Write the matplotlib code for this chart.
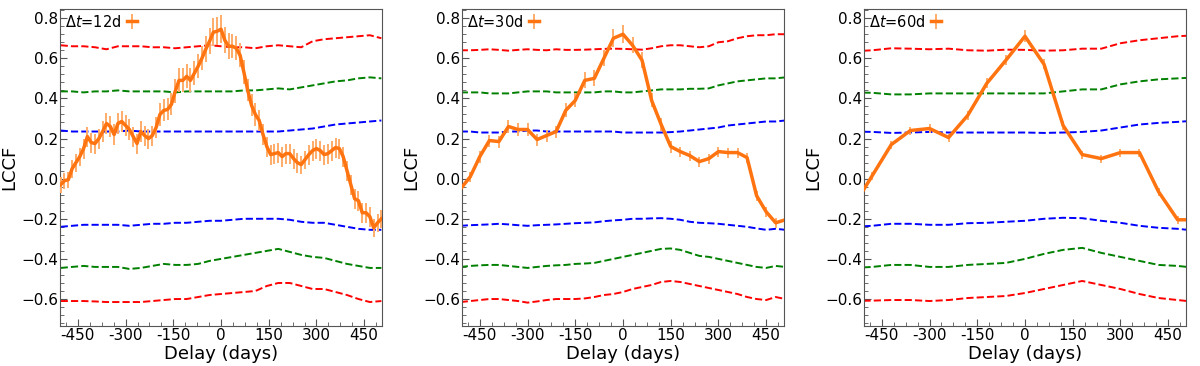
import numpy as np
import matplotlib
matplotlib.use('Agg')
import matplotlib.pyplot as plt
from matplotlib.ticker import AutoMinorLocator, MultipleLocator

# ---- panel 1 : dt = 12 d ----
lag_12 = np.arange(-504, 505, 12)
lccf_12 = [-0.03, -0.01, -0.005, 0.05, 0.08, 0.11, 0.15, 0.21, 0.18, 0.175,
           0.20, 0.235, 0.275, 0.26, 0.22, 0.275, 0.285, 0.265, 0.245, 0.21,
           0.175, 0.235, 0.215, 0.20, 0.215, 0.255, 0.32, 0.34, 0.345, 0.37,
           0.435, 0.49, 0.49, 0.51, 0.49, 0.525, 0.56, 0.60, 0.645, 0.685,
           0.73, 0.735, 0.745, 0.69, 0.66, 0.66, 0.65, 0.615, 0.53, 0.44,
           0.365, 0.32, 0.29, 0.22, 0.16, 0.12, 0.125, 0.13, 0.11, 0.125,
           0.125, 0.10, 0.08, 0.07, 0.095, 0.12, 0.14, 0.15, 0.14, 0.12,
           0.125, 0.14, 0.155, 0.15, 0.11, 0.04, -0.03, -0.10, -0.11, -0.17,
           -0.17, -0.19, -0.245, -0.22, -0.20]
err_12 = [0.04, 0.04, 0.04, 0.045, 0.045, 0.045, 0.05, 0.05, 0.05, 0.05,
          0.05, 0.05, 0.05, 0.05, 0.05, 0.05, 0.05, 0.05, 0.05, 0.05,
          0.05, 0.05, 0.05, 0.05, 0.05, 0.05, 0.055, 0.055, 0.055, 0.055,
          0.06, 0.06, 0.06, 0.06, 0.06, 0.06, 0.06, 0.06, 0.065, 0.065,
          0.07, 0.07, 0.07, 0.065, 0.065, 0.06, 0.06, 0.06, 0.06, 0.055,
          0.055, 0.055, 0.05, 0.05, 0.05, 0.05, 0.05, 0.05, 0.05, 0.05,
          0.05, 0.05, 0.05, 0.045, 0.045, 0.05, 0.05, 0.05, 0.05, 0.05,
          0.05, 0.05, 0.05, 0.05, 0.05, 0.05, 0.05, 0.05, 0.05, 0.05,
          0.05, 0.05, 0.045, 0.045, 0.045]

# significance levels, panel 1 (upper / lower; red, green, blue)
sig_lag_12 = [-504, -468, -432, -396, -360, -324, -288, -252, -216, -180,
              -144, -108, -72, -36, 0, 36, 72, 108, 144, 180,
              216, 252, 288, 324, 360, 396, 432, 468, 504]
red_hi_12 = [0.665, 0.66, 0.66, 0.655, 0.645, 0.66, 0.66, 0.66, 0.655, 0.655,
             0.65, 0.655, 0.66, 0.665, 0.66, 0.655, 0.655, 0.65, 0.66, 0.665,
             0.66, 0.655, 0.685, 0.695, 0.70, 0.705, 0.71, 0.715, 0.70]
grn_hi_12 = [0.435, 0.435, 0.43, 0.435, 0.435, 0.44, 0.435, 0.435, 0.435, 0.435,
             0.43, 0.435, 0.435, 0.435, 0.435, 0.435, 0.44, 0.44, 0.445, 0.45,
             0.445, 0.455, 0.465, 0.475, 0.485, 0.49, 0.50, 0.505, 0.50]
blu_hi_12 = [0.24, 0.235, 0.235, 0.235, 0.235, 0.235, 0.24, 0.235, 0.235, 0.235,
             0.235, 0.235, 0.235, 0.235, 0.235, 0.235, 0.235, 0.235, 0.235, 0.235,
             0.24, 0.245, 0.25, 0.26, 0.27, 0.275, 0.28, 0.285, 0.29]
blu_lo_12 = [-0.24, -0.235, -0.23, -0.23, -0.23, -0.23, -0.235, -0.23, -0.225, -0.225,
             -0.22, -0.22, -0.215, -0.21, -0.21, -0.205, -0.2, -0.2, -0.2, -0.2,
             -0.205, -0.215, -0.22, -0.22, -0.23, -0.24, -0.25, -0.255, -0.255]
grn_lo_12 = [-0.445, -0.44, -0.435, -0.44, -0.44, -0.44, -0.45, -0.445, -0.435, -0.425,
             -0.43, -0.43, -0.425, -0.41, -0.40, -0.39, -0.38, -0.37, -0.36, -0.35,
             -0.365, -0.38, -0.39, -0.395, -0.41, -0.425, -0.435, -0.445, -0.445]
red_lo_12 = [-0.61, -0.61, -0.61, -0.612, -0.615, -0.615, -0.615, -0.615, -0.61, -0.605,
             -0.6, -0.6, -0.59, -0.58, -0.575, -0.57, -0.565, -0.56, -0.535, -0.52,
             -0.52, -0.535, -0.55, -0.55, -0.565, -0.58, -0.60, -0.615, -0.61]

# ---- panel 2 : dt = 30 d ----
lag_30 = np.arange(-510, 511, 30)
lccf_30 = [-0.05, 0.01, 0.11, 0.19, 0.185, 0.26, 0.245, 0.245, 0.195, 0.215,
           0.235, 0.34, 0.39, 0.49, 0.50, 0.60, 0.70, 0.72, 0.665, 0.59,
           0.39, 0.27, 0.16, 0.135, 0.115, 0.085, 0.10, 0.135, 0.13, 0.13,
           0.105, -0.085, -0.165, -0.22, -0.205]
err_30 = [0.025, 0.025, 0.03, 0.03, 0.03, 0.03, 0.03, 0.03, 0.03, 0.03,
          0.03, 0.035, 0.035, 0.04, 0.04, 0.04, 0.045, 0.045, 0.04, 0.04,
          0.035, 0.03, 0.03, 0.025, 0.025, 0.025, 0.025, 0.025, 0.025, 0.025,
          0.025, 0.025, 0.025, 0.025, 0.025]
red_hi_30 = [0.64, 0.64, 0.642, 0.645, 0.642, 0.638, 0.642, 0.645, 0.642, 0.64,
             0.645, 0.642, 0.642, 0.643, 0.645, 0.647, 0.648, 0.647, 0.645, 0.643,
             0.65, 0.66, 0.665, 0.665, 0.66, 0.655, 0.66, 0.68, 0.685, 0.70,
             0.71, 0.715, 0.715, 0.72, 0.72]
grn_hi_30 = [0.43, 0.43, 0.43, 0.425, 0.425, 0.425, 0.43, 0.435, 0.435, 0.435,
             0.43, 0.43, 0.43, 0.43, 0.43, 0.435, 0.435, 0.43, 0.43, 0.435,
             0.44, 0.445, 0.445, 0.445, 0.448, 0.448, 0.45, 0.465, 0.475, 0.485,
             0.49, 0.495, 0.50, 0.50, 0.505]
blu_hi_30 = [0.235, 0.235, 0.23, 0.23, 0.23, 0.235, 0.235, 0.24, 0.24, 0.235,
             0.235, 0.235, 0.235, 0.235, 0.235, 0.235, 0.235, 0.23, 0.23, 0.23,
             0.23, 0.23, 0.232, 0.235, 0.24, 0.245, 0.25, 0.255, 0.265, 0.27,
             0.275, 0.28, 0.285, 0.285, 0.29]
blu_lo_30 = [-0.235, -0.232, -0.23, -0.228, -0.225, -0.228, -0.232, -0.235, -0.232, -0.23,
             -0.228, -0.225, -0.222, -0.22, -0.218, -0.212, -0.208, -0.205, -0.2, -0.2,
             -0.198, -0.197, -0.2, -0.205, -0.215, -0.22, -0.222, -0.225, -0.23, -0.235,
             -0.24, -0.248, -0.255, -0.25, -0.255]
grn_lo_30 = [-0.44, -0.435, -0.432, -0.43, -0.43, -0.435, -0.44, -0.445, -0.44, -0.435,
             -0.432, -0.43, -0.425, -0.423, -0.42, -0.41, -0.4, -0.39, -0.38, -0.37,
             -0.36, -0.35, -0.348, -0.355, -0.37, -0.385, -0.39, -0.4, -0.41, -0.42,
             -0.43, -0.44, -0.445, -0.435, -0.44]
red_lo_30 = [-0.615, -0.61, -0.605, -0.6, -0.6, -0.605, -0.61, -0.618, -0.612, -0.605,
             -0.6, -0.6, -0.6, -0.597, -0.59, -0.58, -0.575, -0.565, -0.55, -0.54,
             -0.53, -0.515, -0.51, -0.515, -0.525, -0.535, -0.545, -0.555, -0.565, -0.575,
             -0.59, -0.6, -0.605, -0.59, -0.60]

# ---- panel 3 : dt = 60 d ----
lag_60 = np.arange(-540, 541, 60)
lccf_60 = [-0.14, 0.015, 0.17, 0.24, 0.25, 0.205, 0.315, 0.475, 0.59, 0.71,
           0.57, 0.265, 0.12, 0.10, 0.13, 0.13, -0.065, -0.205, -0.205]
err_60 = [0.02, 0.02, 0.02, 0.02, 0.02, 0.02, 0.022, 0.025, 0.025, 0.03,
          0.025, 0.02, 0.02, 0.02, 0.02, 0.02, 0.02, 0.02, 0.02]
red_hi_60 = [0.635, 0.64, 0.65, 0.648, 0.645, 0.648, 0.64, 0.638, 0.643, 0.642,
             0.638, 0.64, 0.648, 0.648, 0.675, 0.69, 0.70, 0.71, 0.715]
grn_hi_60 = [0.43, 0.428, 0.42, 0.42, 0.425, 0.425, 0.425, 0.425, 0.425, 0.425,
             0.425, 0.435, 0.445, 0.445, 0.47, 0.485, 0.495, 0.50, 0.505]
blu_hi_60 = [0.235, 0.233, 0.228, 0.23, 0.233, 0.23, 0.23, 0.23, 0.23, 0.23,
             0.228, 0.23, 0.233, 0.24, 0.255, 0.27, 0.278, 0.283, 0.29]
blu_lo_60 = [-0.24, -0.235, -0.225, -0.225, -0.23, -0.23, -0.222, -0.22, -0.215, -0.21,
             -0.2, -0.195, -0.197, -0.21, -0.22, -0.235, -0.245, -0.25, -0.26]
grn_lo_60 = [-0.445, -0.44, -0.43, -0.43, -0.44, -0.44, -0.43, -0.425, -0.42, -0.40,
             -0.375, -0.355, -0.345, -0.37, -0.39, -0.41, -0.43, -0.435, -0.445]
red_lo_60 = [-0.61, -0.608, -0.605, -0.605, -0.61, -0.605, -0.595, -0.59, -0.585, -0.57,
             -0.55, -0.53, -0.51, -0.53, -0.55, -0.575, -0.595, -0.605, -0.615]

panels = [
    ('12d', lag_12, lccf_12, err_12, sig_lag_12,
     [red_hi_12, grn_hi_12, blu_hi_12, blu_lo_12, grn_lo_12, red_lo_12]),
    ('30d', lag_30, lccf_30, err_30, lag_30,
     [red_hi_30, grn_hi_30, blu_hi_30, blu_lo_30, grn_lo_30, red_lo_30]),
    ('60d', lag_60, lccf_60, err_60, lag_60,
     [red_hi_60, grn_hi_60, blu_hi_60, blu_lo_60, grn_lo_60, red_lo_60]),
]
sig_colors = ['red', 'green', 'blue', 'blue', 'green', 'red']
xticks = [-450, -300, -150, 0, 150, 300, 450]

fig, axes = plt.subplots(1, 3, figsize=(12, 3.66), dpi=100)
fig.subplots_adjust(left=0.0503, right=0.988, bottom=0.109, top=0.975, wspace=0.251)

for ax, (dt, lag, lccf, err, sig_lag, sig_lines) in zip(axes, panels):
    for yv, col in zip(sig_lines, sig_colors):
        ax.plot(sig_lag, yv, ls='--', color=col, lw=1.4, zorder=2)
    ax.errorbar(lag, lccf, yerr=err, fmt='-', color='#ff7410', lw=2.5,
                ecolor='#ffac6a', elinewidth=1.4, zorder=3,
                label=r'$\Delta t$=' + dt)

    ax.set_xlim(-505, 505)
    ax.set_ylim(-0.735, 0.845)
    ax.set_xticks(xticks, [str(t) for t in xticks])
    ax.xaxis.set_minor_locator(MultipleLocator(37.5))
    ax.yaxis.set_major_locator(MultipleLocator(0.2))
    ax.yaxis.set_minor_locator(AutoMinorLocator(5))
    ax.tick_params(which='both', direction='in', top=False, right=False,
                   color='#555555', labelsize=11, pad=1.5)
    ax.tick_params(which='major', length=5)
    ax.tick_params(which='minor', length=3)
    for sp in ax.spines.values():
        sp.set_color('#555555')
    ax.set_xlabel('Delay (days)', fontsize=13, labelpad=1)
    ax.set_ylabel('LCCF', fontsize=13, labelpad=2)
    ax.legend(loc='upper left', frameon=False, markerfirst=False,
              handlelength=0.7, handletextpad=0.4, fontsize=10.5,
              borderaxespad=0.1, borderpad=0.2)

fig.savefig('out.png', dpi=100)
